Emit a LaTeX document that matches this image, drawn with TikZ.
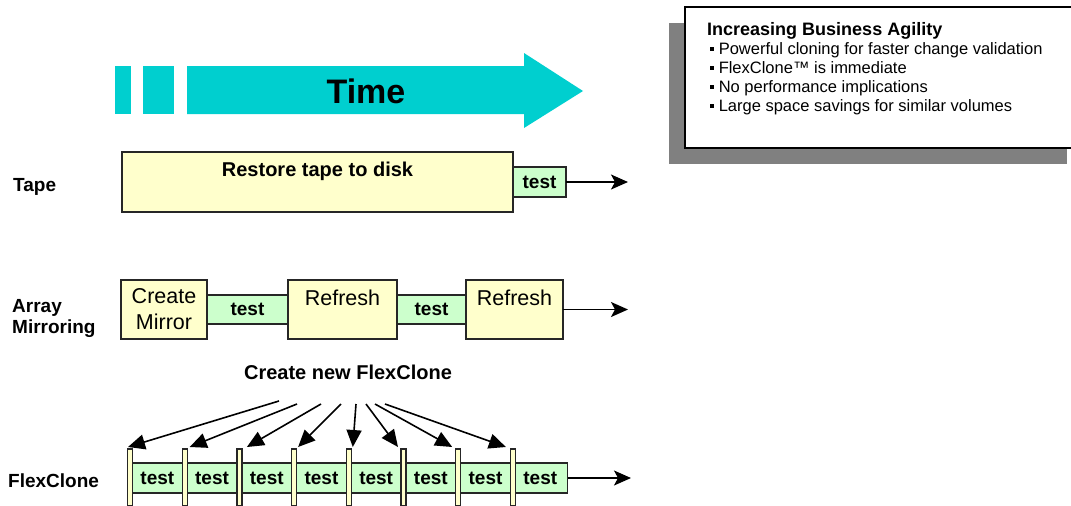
\documentclass[tikz,border=0pt]{standalone}
\usepackage{fontspec}
\setmainfont{Liberation Sans}
\usepackage{tikz}
\usetikzlibrary{arrows.meta, positioning}
\definecolor{timecyan}{HTML}{00CFCF}
\definecolor{stageyellow}{HTML}{FFFFCC}
\definecolor{testgreen}{HTML}{CCFFCC}
\definecolor{shadowgray}{HTML}{808080}
\newcommand{\sqbul}{\rule[0.2em]{0.24em}{0.24em}}

\begin{document}
\begin{tikzpicture}[
    x=1pt, y=-1pt,
    node distance=0pt,
    stagebox/.style={rectangle, draw=black!85, line width=1.2pt, fill=stageyellow,
                     outer sep=0pt, inner sep=0pt, minimum height=59pt},
    testbox/.style={rectangle, draw=black!85, line width=1.2pt, fill=testgreen,
                    outer sep=0pt, inner sep=0pt, minimum height=30pt,
                    font=\fontsize{19}{22}\selectfont\bfseries},
    clonebar/.style={rectangle, draw=black!85, line width=1.2pt, fill=stageyellow,
                     outer sep=0pt, inner sep=0pt, minimum width=5pt,
                     minimum height=57pt, anchor=north},
    toplabel/.style={anchor=north, inner sep=0pt, yshift=-10pt},
    rowlabel/.style={font=\fontsize{19}{21}\selectfont\bfseries, align=left, inner sep=0pt},
    pointtext/.style={font=\fontsize{16.5}{19}\selectfont, inner sep=0pt, anchor=base west},
    timeline/.style={-{Stealth[length=17pt, width=15pt, inset=4pt]}, line width=1.6pt},
    clonearrow/.style={-{Triangle[length=17pt, width=15pt]}, line width=1.6pt}
]
\useasboundingbox (0,0) rectangle (1071,506);

% Time arrow
\fill[timecyan] (115,66) rectangle (131,114);
\fill[timecyan] (143,66) rectangle (174,114);
\fill[timecyan] (187,66) -- (524,66) -- (524,53) -- (583,91) -- (524,128)
    -- (524,114) -- (187,114) -- cycle;
\node[font=\fontsize{34}{36}\selectfont\bfseries] (timelabel) at (366,91) {Time};

% Info box
\fill[shadowgray] (669,23) rectangle (1067,164);
\fill[white] (685,7) rectangle (1071,148);
\draw[line width=1.8pt] (1071,7) -- (685,7) -- (685,148) -- (1071,148);
\node[anchor=base west, inner sep=0pt, font=\fontsize{18}{20}\selectfont\bfseries]
    (agility) at (707,35) {Increasing Business Agility};
\foreach \t [count=\k] in {Powerful cloning for faster change validation,
        FlexClone™ is immediate, No performance implications,
        Large space savings for similar volumes}
    \node[pointtext] (point\k) at (710, 35+19*\k) {\sqbul\ \t};

% Row labels
\node[rowlabel, anchor=base west] (tapelabel) at (13,191) {Tape};
\node[rowlabel, anchor=west] (mirrorlabel) at (12,318) {Array\\Mirroring};
\node[rowlabel, anchor=base west] (clonelabel) at (8,487) {FlexClone};

% Tape
\node[stagebox, minimum width=391pt, minimum height=60pt,
      label={[toplabel, font=\fontsize{20}{22}\selectfont\bfseries]north:Restore tape to disk}]
    (restore) at (317.5,182) {};
\node[testbox, minimum width=53pt, right=of restore] (tapetest) {test};
\coordinate (tapeend) at (628,182);
\draw[timeline] (tapetest) -- (tapeend);

% Array mirroring
\node[stagebox, minimum width=86pt, align=center, font=\fontsize{21.5}{26}\selectfont]
    (mirror) at (164,309.5) {Create\\Mirror};
\node[testbox, minimum width=81pt, minimum height=29pt, right=of mirror] (mirrortest1) {test};
\node[stagebox, minimum width=109pt, right=of mirrortest1,
      label={[toplabel, font=\fontsize{21.5}{26}\selectfont]north:Refresh}] (refresh1) {};
\node[testbox, minimum width=69pt, minimum height=29pt, right=of refresh1] (mirrortest2) {test};
\node[stagebox, minimum width=97pt, right=of mirrortest2,
      label={[toplabel, font=\fontsize{21.5}{26}\selectfont]north:Refresh}] (refresh2) {};
\coordinate (mirrorend) at (628,309.5);
\draw[timeline] (refresh2) -- (mirrorend);

% FlexClone
\node[font=\fontsize{20}{22}\selectfont\bfseries, anchor=base] (newclone) at (348,379)
    {Create new FlexClone};
\foreach \i in {0,...,7}
    \node[testbox, minimum width=54.7pt] (flex\i) at ({157.35+54.7*\i},478) {test};
\foreach \i in {0,...,7}
    \node[clonebar] (bar\i) at ({130+54.7*\i},449) {};
\coordinate (cloneend) at (631,478);
\draw[timeline] (flex7) -- (cloneend);

\foreach \i/\sx/\sy/\dx in {0/279/401/-2, 1/297/404/5, 2/321/404/7.5, 3/341/404/4,
        4/356/404/4, 5/366/404/-5.5, 6/375/404/-6, 7/385/404/-7} {
    \coordinate (src\i) at (\sx,\sy);
    \draw[clonearrow] (src\i) -- ([xshift=\dx pt, yshift=2pt]bar\i.north);
}

\end{tikzpicture}
\end{document}
